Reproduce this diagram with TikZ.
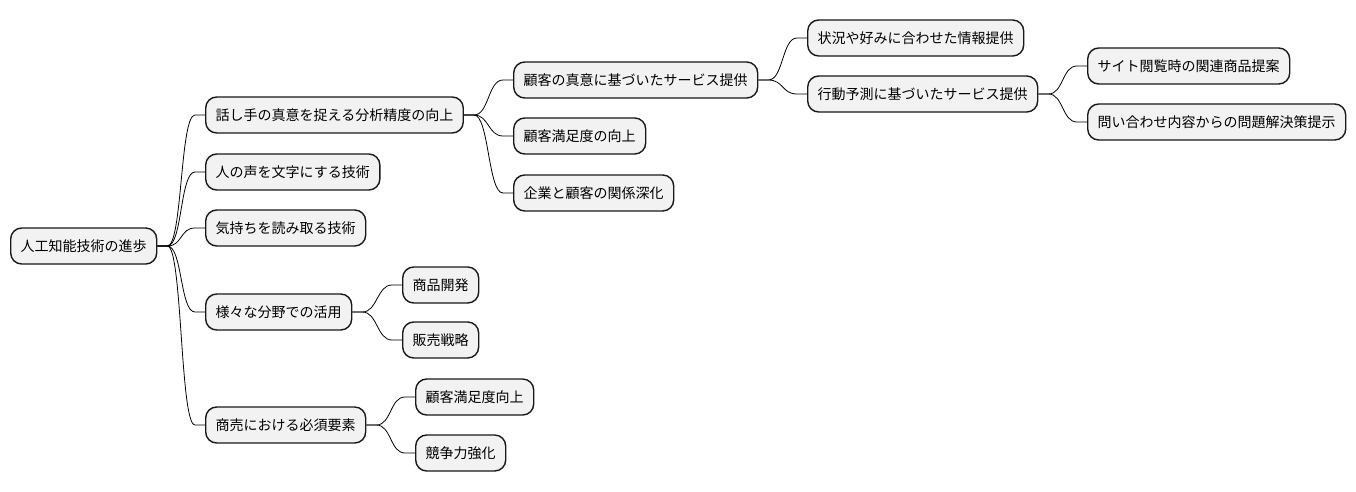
\documentclass[tikz,border=0pt]{standalone}
\usepackage{fontspec}
\newfontfamily\jpfont{Noto Sans CJK JP}
\usetikzlibrary{calc}
\tikzset{
  mm/.style={draw=black!90, line width=1.4pt, fill=black!5, rounded corners=11pt,
    anchor=west, minimum height=36pt, inner xsep=10pt, inner ysep=0pt,
    font=\jpfont\fontsize{14}{16}\selectfont, text=black},
  edge/.style={draw=black, line width=0.8pt}
}
\newcommand{\mmlink}[2]{\draw[edge] (#1.east) -- ++(10,0) .. controls ++(15,0) and ([xshift=-25pt]#2.west) .. ([xshift=-10pt]#2.west) -- (#2.west);}
\begin{document}
\begin{tikzpicture}[x=1pt,y=-1pt]
\useasboundingbox (0,0) rectangle (1356,492);
\node[mm] (root) at (10,246) {人工知能技術の進歩};
\node[mm] (a1) at (205,115) {話し手の真意を捉える分析精度の向上};
\node[mm] (a2) at (205,172) {人の声を文字にする技術};
\node[mm] (a3) at (205,228) {気持ちを読み取る技術};
\node[mm] (a4) at (205,312) {様々な分野での活用};
\node[mm] (a5) at (205,425) {商売における必須要素};
\node[mm] (b1) at (513,80) {顧客の真意に基づいたサービス提供};
\node[mm] (b2) at (513,136) {顧客満足度の向上};
\node[mm] (b3) at (513,193) {企業と顧客の関係深化};
\node[mm] (c1) at (807,38) {状況や好みに合わせた情報提供};
\node[mm] (c2) at (807,94) {行動予測に基づいたサービス提供};
\node[mm] (d1) at (1087,66) {サイト閲覧時の関連商品提案};
\node[mm] (d2) at (1087,122) {問い合わせ内容からの問題解決策提示};
\node[mm] (e1) at (402,285) {商品開発};
\node[mm] (e2) at (402,340) {販売戦略};
\node[mm] (f1) at (415,397) {顧客満足度向上};
\node[mm] (f2) at (415,453) {競争力強化};
\mmlink{root}{a1}
\mmlink{root}{a2}
\mmlink{root}{a3}
\mmlink{root}{a4}
\mmlink{root}{a5}
\mmlink{a1}{b1}
\mmlink{a1}{b2}
\mmlink{a1}{b3}
\mmlink{b1}{c1}
\mmlink{b1}{c2}
\mmlink{c2}{d1}
\mmlink{c2}{d2}
\mmlink{a4}{e1}
\mmlink{a4}{e2}
\mmlink{a5}{f1}
\mmlink{a5}{f2}
\end{tikzpicture}
\end{document}
